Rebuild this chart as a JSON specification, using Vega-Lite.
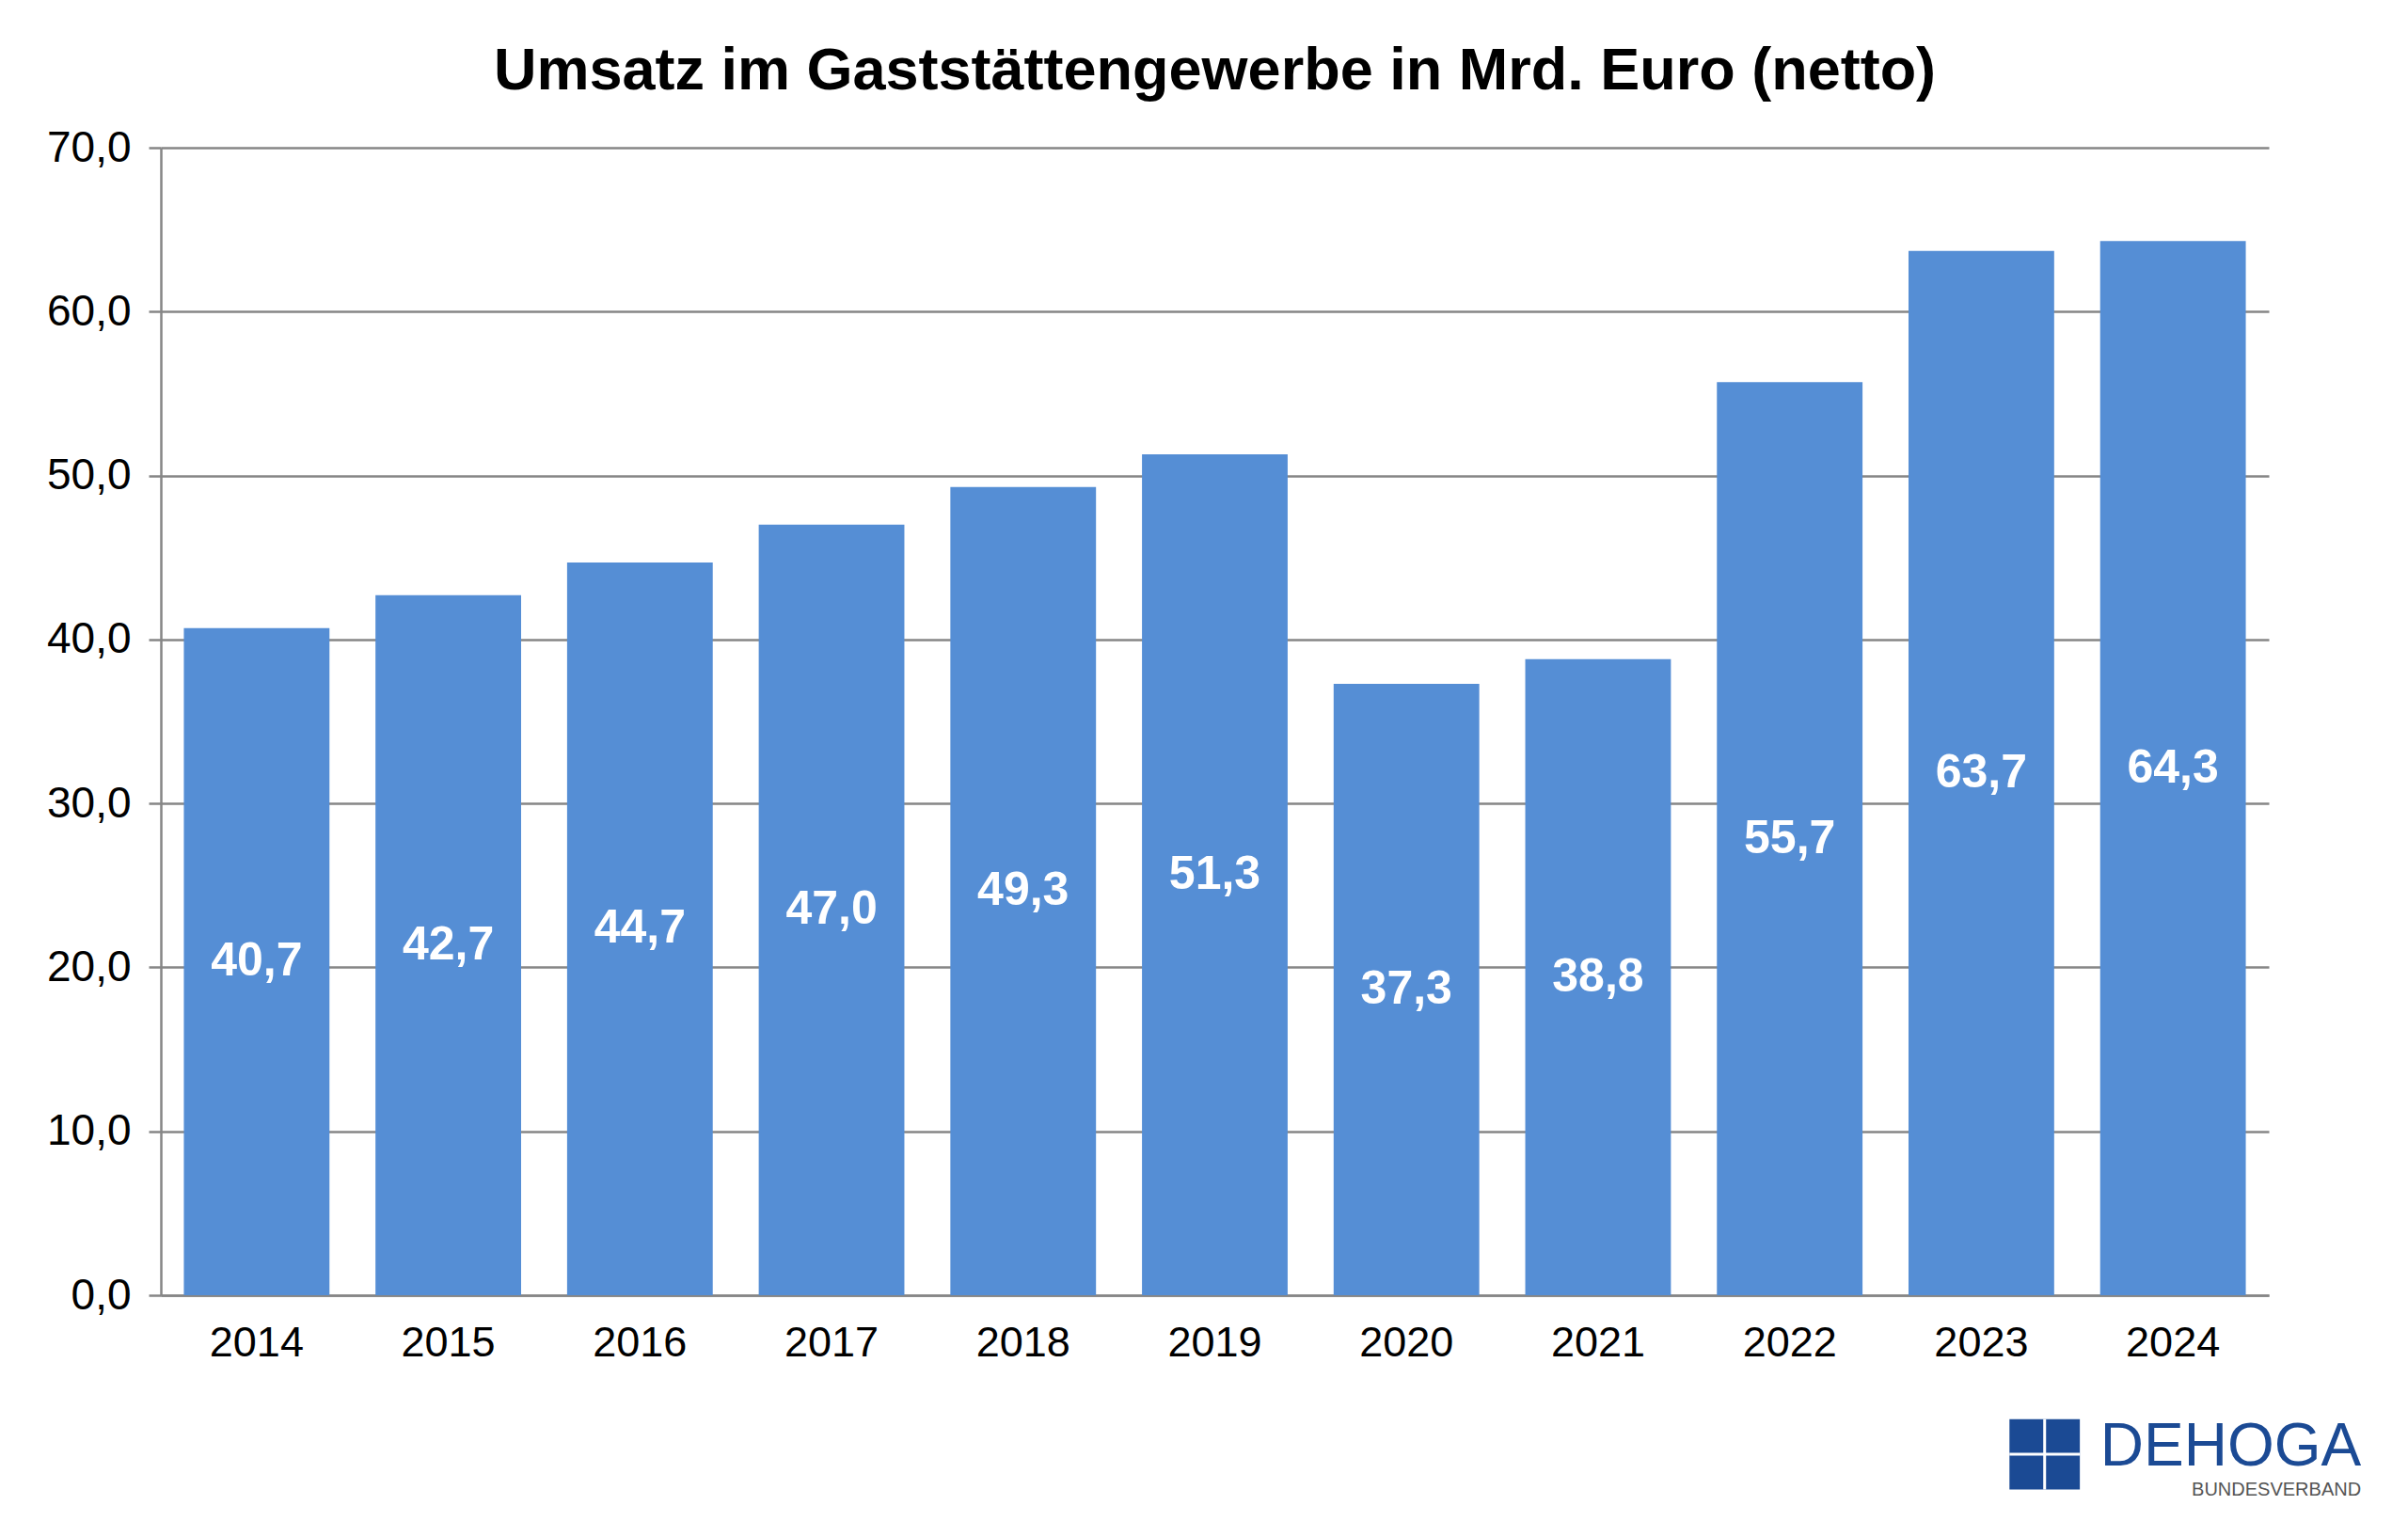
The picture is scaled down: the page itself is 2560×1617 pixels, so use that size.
{
  "$schema": "https://vega.github.io/schema/vega-lite/v6.json",
  "width": 2241,
  "height": 1220,
  "autosize": {"type": "none"},
  "padding": {"left": 171, "top": 157, "right": 148, "bottom": 240},
  "background": "white",
  "title": {
    "text": "Umsatz im Gaststättengewerbe in Mrd. Euro (netto)",
    "font": "Liberation Sans",
    "fontSize": 63,
    "fontWeight": "bold",
    "color": "black",
    "anchor": "middle",
    "baseline": "alphabetic",
    "offset": -24
  },
  "data": {
    "values": [
      {"Jahr": "2014", "Umsatz": 40.7},
      {"Jahr": "2015", "Umsatz": 42.7},
      {"Jahr": "2016", "Umsatz": 44.7},
      {"Jahr": "2017", "Umsatz": 47.0},
      {"Jahr": "2018", "Umsatz": 49.3},
      {"Jahr": "2019", "Umsatz": 51.3},
      {"Jahr": "2020", "Umsatz": 37.3},
      {"Jahr": "2021", "Umsatz": 38.8},
      {"Jahr": "2022", "Umsatz": 55.7},
      {"Jahr": "2023", "Umsatz": 63.7},
      {"Jahr": "2024", "Umsatz": 64.3}
    ]
  },
  "encoding": {
    "x": {
      "field": "Jahr",
      "type": "ordinal",
      "title": null,
      "scale": {"paddingInner": 0.24, "paddingOuter": 0.12},
      "axis": {
        "labelAngle": 0,
        "labelFont": "Liberation Sans",
        "labelFontSize": 45,
        "labelColor": "black",
        "labelPadding": 28,
        "ticks": false,
        "domainColor": "#868686",
        "domainWidth": 2.5,
        "grid": false
      }
    }
  },
  "layer": [
    {
      "mark": {"type": "bar", "color": "#558ED5"},
      "encoding": {
        "y": {
          "field": "Umsatz",
          "type": "quantitative",
          "title": null,
          "scale": {"domain": [0, 70], "nice": false},
          "axis": {
            "values": [0, 10, 20, 30, 40, 50, 60, 70],
            "format": ".1f",
            "labelFont": "Liberation Sans",
            "labelFontSize": 46,
            "labelColor": "black",
            "labelPadding": 19,
            "tickSize": 13,
            "tickColor": "#868686",
            "tickWidth": 2.5,
            "domainColor": "#868686",
            "domainWidth": 2.5,
            "gridColor": "#868686",
            "gridWidth": 2.5
          }
        }
      }
    },
    {
      "transform": [{"calculate": "datum.Umsatz / 2", "as": "Mitte"}],
      "mark": {
        "type": "text",
        "font": "Liberation Sans",
        "fontSize": 50,
        "fontWeight": "bold",
        "color": "white",
        "baseline": "middle",
        "align": "center"
      },
      "encoding": {
        "y": {"field": "Mitte", "type": "quantitative"},
        "text": {"field": "Umsatz", "type": "quantitative", "format": ".1f"}
      }
    },
    {
      "data": {"values": [{"Logo": "DEHOGA"}]},
      "mark": {
        "type": "text",
        "font": "Liberation Sans",
        "fontSize": 64,
        "color": "#1B4A94",
        "align": "right",
        "baseline": "alphabetic",
        "dx": 200
      },
      "encoding": {
        "x": {"datum": "2024"},
        "y": {"datum": -10.4},
        "text": {"field": "Logo"}
      }
    },
    {
      "data": {"values": [{"Logo": "BUNDESVERBAND"}]},
      "mark": {
        "type": "text",
        "font": "Liberation Sans",
        "fontSize": 20,
        "color": "#555555",
        "align": "right",
        "baseline": "alphabetic",
        "dx": 200
      },
      "encoding": {
        "x": {"datum": "2024"},
        "y": {"datum": -12.2},
        "text": {"field": "Logo"}
      }
    },
    {
      "data": {"values": [{"Logo": "Symbol"}]},
      "mark": {
        "type": "point",
        "shape": "square",
        "filled": true,
        "opacity": 1,
        "size": 5600,
        "color": "#1B4A94"
      },
      "encoding": {
        "x": {"datum": "2024"},
        "y": {"datum": -9.7},
        "xOffset": {"value": -59}
      }
    },
    {
      "data": {"values": [{"Logo": "Symbol"}]},
      "mark": {
        "type": "point",
        "shape": "M-1,0H1M0,-1V1",
        "filled": false,
        "opacity": 1,
        "size": 5600,
        "stroke": "white",
        "strokeWidth": 3
      },
      "encoding": {
        "x": {"datum": "2024"},
        "y": {"datum": -9.7},
        "xOffset": {"value": -59}
      }
    }
  ],
  "config": {
    "view": {"stroke": null},
    "locale": {
      "number": {
        "decimal": ",",
        "thousands": ".",
        "grouping": [3],
        "currency": ["", " €"]
      }
    }
  }
}
